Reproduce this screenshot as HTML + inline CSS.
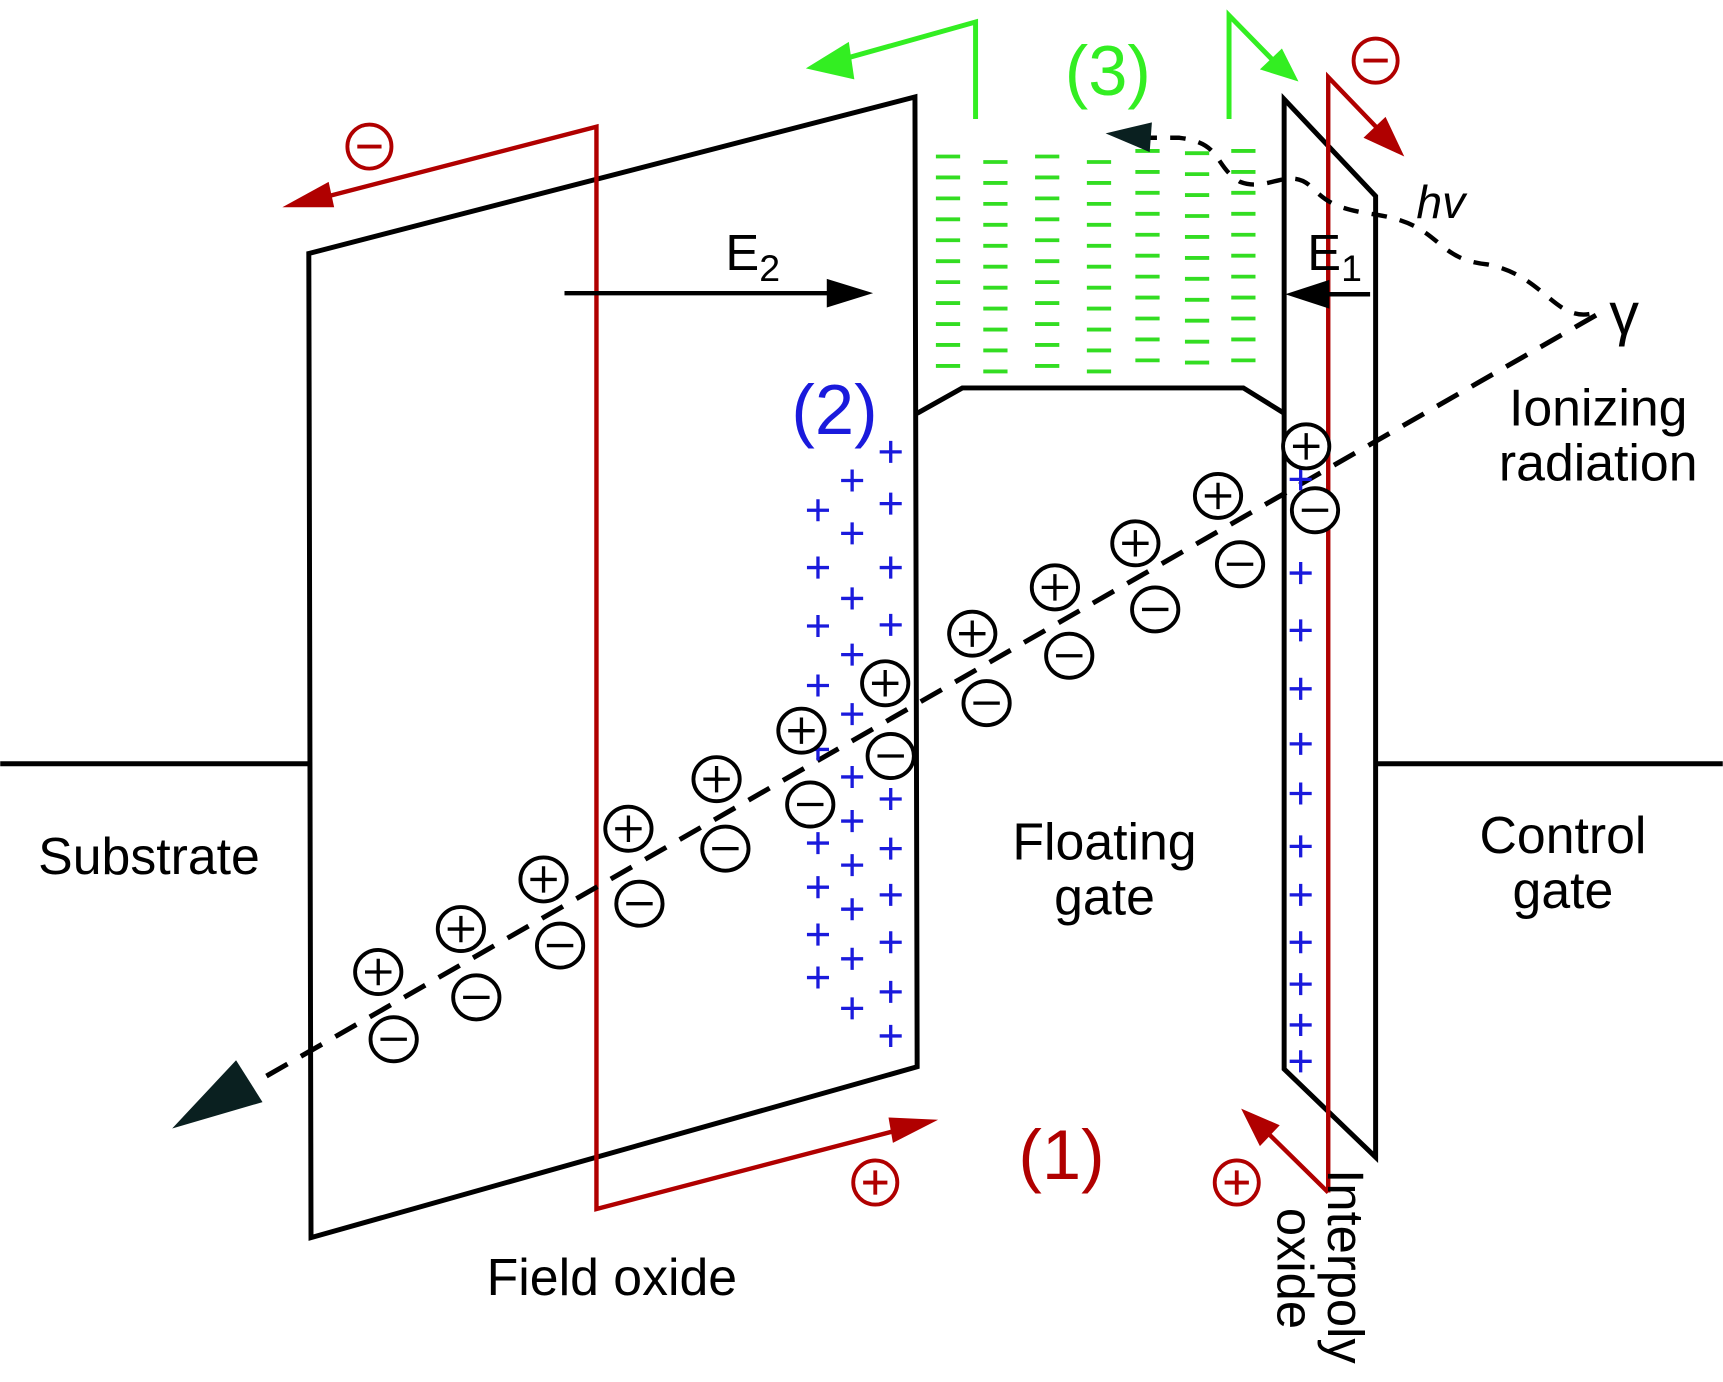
<!DOCTYPE html>
<html><head><meta charset="utf-8"><style>
html,body{margin:0;padding:0;background:#fff}
svg{display:block}
text{font-family:"Liberation Sans",sans-serif}
</style></head><body>
<svg width="1723" height="1382" viewBox="0 0 1563 1254" xmlns="http://www.w3.org/2000/svg">
<g fill="none" stroke="#000" stroke-width="4.5">
<line x1="0" y1="693" x2="280" y2="693"/>
<line x1="1248" y1="693" x2="1563" y2="693"/>
<polygon points="280,230 830,88 832,968 282,1123"/>
<polyline points="832,375 873,352 1128,352 1165,375"/>
<polygon points="1165,90 1248,178 1248,1050 1165,970"/>
</g>
<g stroke="#33dd22" stroke-width="3.5">
<g id="gc">
<line x1="849" x2="871" y1="142" y2="142"/><line x1="849" x2="871" y1="161" y2="161"/><line x1="849" x2="871" y1="180" y2="180"/><line x1="849" x2="871" y1="199" y2="199"/><line x1="849" x2="871" y1="218" y2="218"/><line x1="849" x2="871" y1="237" y2="237"/><line x1="849" x2="871" y1="256" y2="256"/><line x1="849" x2="871" y1="275" y2="275"/><line x1="849" x2="871" y1="294" y2="294"/><line x1="849" x2="871" y1="313" y2="313"/><line x1="849" x2="871" y1="332" y2="332"/>
</g>
<use href="#gc" transform="translate(43,5)"/>
<use href="#gc" transform="translate(90,0)"/>
<use href="#gc" transform="translate(137,5)"/>
<use href="#gc" transform="translate(181,-5)"/>
<use href="#gc" transform="translate(226,-3)"/>
<use href="#gc" transform="translate(268,-5)"/>
</g>
<g stroke="#33ee22" stroke-width="4.5" fill="none">
<polyline points="885,108 885,20 760,55"/>
<polyline points="1115,108 1115,14 1160,60"/>
</g>
<polygon points="731,62 770,38 775,72" fill="#33ee22"/>
<polygon points="1178,74 1143,63 1163,44" fill="#33ee22"/>
<text x="1005" y="86" font-size="64" fill="#33ee22" text-anchor="middle">(3)</text>
<g stroke="#b00000" stroke-width="4" fill="none">
<polyline points="290,180 541,115 541,1097 820,1024"/>
<polyline points="1205,1082 1205,70 1255,122"/>
<line x1="1205" y1="1082" x2="1145" y2="1023"/>
</g>
<polygon points="256,188 298,165 303,188" fill="#b00000"/>
<polygon points="851,1016 810,1037 806,1014" fill="#b00000"/>
<polygon points="1274,142 1237,125 1257,106" fill="#b00000"/>
<polygon points="1126,1006 1161,1021 1143,1040" fill="#b00000"/>
<g stroke="#b00000" stroke-width="3.5" fill="none">
<circle cx="335" cy="133" r="20"/><line x1="324" y1="133" x2="346" y2="133"/>
<circle cx="1248" cy="55" r="20"/><line x1="1237" y1="55" x2="1259" y2="55"/>
<circle cx="794" cy="1073" r="20"/><line x1="783" y1="1073" x2="805" y2="1073"/><line x1="794" y1="1062" x2="794" y2="1084"/>
<circle cx="1122" cy="1073" r="20"/><line x1="1111" y1="1073" x2="1133" y2="1073"/><line x1="1122" y1="1062" x2="1122" y2="1084"/>
</g>
<text x="963" y="1070" font-size="64" fill="#b00000" text-anchor="middle">(1)</text>
<line x1="512" y1="266" x2="760" y2="266" stroke="#000" stroke-width="4"/>
<polygon points="792,266 750,253 750,279" fill="#000"/>
<text x="658" y="245" font-size="46">E<tspan font-size="34" dy="10">2</tspan></text>
<line x1="1243" y1="267" x2="1195" y2="267" stroke="#000" stroke-width="4"/>
<polygon points="1166,267 1206,254 1206,280" fill="#000"/>
<text x="1186" y="245" font-size="46">E<tspan font-size="34" dy="10">1</tspan></text>
<path d="M1442,285 C1410,290 1400,250 1350,240 C1300,235 1310,205 1250,195 C1215,190 1205,185 1190,170 C1170,150 1150,175 1125,165 C1100,150 1110,130 1070,125 L1040,125" fill="none" stroke="#000" stroke-width="4" stroke-dasharray="14,12"/>
<polygon points="1003,121 1045,111 1043,138" fill="#0a2020"/>
<line x1="1448" y1="286" x2="230" y2="983" stroke="#000" stroke-width="4.5" stroke-dasharray="22,14"/>
<polygon points="156,1024 214,962 238,1000" fill="#0a2020"/>
<text x="1285" y="198" font-size="42" font-style="italic">hv</text>
<text x="1460" y="303" font-size="54" font-family="DejaVu Serif,serif">γ</text>
<g stroke="#1a1adc" stroke-width="3" fill="none">
<path d="M798,410h20M808,400v20 M798,457h20M808,447v20 M798,515h20M808,505v20 M798,567h20M808,557v20 M798,725h20M808,715v20 M798,770h20M808,760v20 M798,812h20M808,802v20 M798,855h20M808,845v20 M798,900h20M808,890v20 M798,940h20M808,930v20
M763,436h20M773,426v20 M763,484h20M773,474v20 M763,543h20M773,533v20 M763,594h20M773,584v20 M763,648h20M773,638v20 M763,705h20M773,695v20 M763,745h20M773,735v20 M763,785h20M773,775v20 M763,825h20M773,815v20 M763,870h20M773,860v20 M763,915h20M773,905v20
M732,463h20M742,453v20 M732,515h20M742,505v20 M732,568h20M742,558v20 M732,622h20M742,612v20 M732,680h20M742,670v20 M732,765h20M742,755v20 M732,805h20M742,795v20 M732,848h20M742,838v20 M732,887h20M742,877v20
M1170,435h20M1180,425v20 M1170,520h20M1180,510v20 M1170,572h20M1180,562v20 M1170,625h20M1180,615v20 M1170,675h20M1180,665v20 M1170,720h20M1180,710v20 M1170,768h20M1180,758v20 M1170,812h20M1180,802v20 M1170,855h20M1180,845v20 M1170,893h20M1180,883v20 M1170,930h20M1180,920v20 M1170,963h20M1180,953v20"/>
</g>
<text x="757" y="394" font-size="64" fill="#1a1adc" text-anchor="middle">(2)</text>
<defs>
<g id="P"><ellipse cx="0" cy="0" rx="21" ry="20" fill="#fff" stroke="#000" stroke-width="3.5"/><path d="M-12,0h24M0,-12v24" stroke="#000" stroke-width="3"/></g>
<g id="M"><ellipse cx="0" cy="0" rx="21" ry="20" fill="#fff" stroke="#000" stroke-width="3.5"/><path d="M-12,0h24" stroke="#000" stroke-width="3"/></g>
</defs>
<use href="#P" x="343" y="882"/><use href="#M" x="357" y="943"/>
<use href="#P" x="418" y="843"/><use href="#M" x="432" y="905"/>
<use href="#P" x="493" y="798"/><use href="#M" x="508" y="858"/>
<use href="#P" x="570" y="752"/><use href="#M" x="580" y="820"/>
<use href="#P" x="650" y="707"/><use href="#M" x="658" y="770"/>
<use href="#P" x="727" y="663"/><use href="#M" x="735" y="730"/>
<use href="#P" x="803" y="620"/><use href="#M" x="808" y="686"/>
<use href="#P" x="882" y="575"/><use href="#M" x="895" y="638"/>
<use href="#P" x="957" y="533"/><use href="#M" x="970" y="595"/>
<use href="#P" x="1030" y="493"/><use href="#M" x="1048" y="553"/>
<use href="#P" x="1105" y="450"/><use href="#M" x="1125" y="512"/>
<use href="#P" x="1185" y="405"/><use href="#M" x="1193" y="463"/>
<g font-size="47" fill="#000" text-anchor="middle">
<text x="135" y="793">Substrate</text>
<text x="1002" y="780">Floating</text>
<text x="1002" y="830">gate</text>
<text x="1418" y="774">Control</text>
<text x="1418" y="824">gate</text>
<text x="555" y="1175">Field oxide</text>
<text x="1450" y="386">Ionizing</text>
<text x="1450" y="436">radiation</text>
</g>
<g font-size="46" fill="#000">
<text transform="translate(1205,1061) rotate(90)">Interpoly</text>
<text transform="translate(1159,1096) rotate(90)">oxide</text>
</g>
</svg>
</body></html>
